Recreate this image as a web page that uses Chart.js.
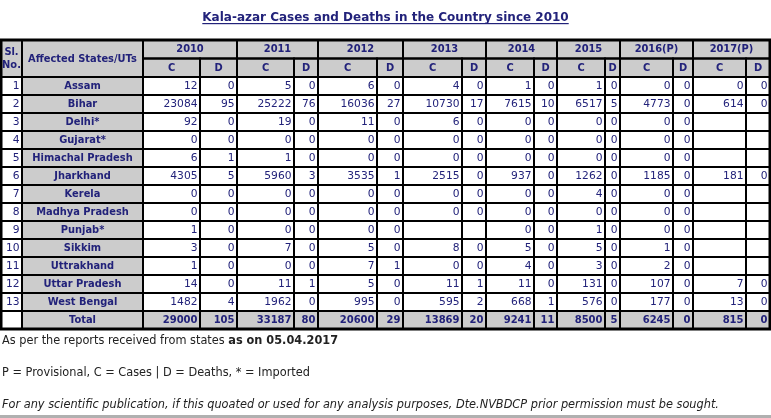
<!DOCTYPE html>
<html>
<head>
<meta charset="utf-8">
<script src="https://cdn.jsdelivr.net/npm/chart.js@4.4.1/dist/chart.umd.min.js"></script>
<style>
html,body{margin:0;padding:0;background:#fff;overflow:hidden;}
#wrap{position:relative;width:771px;height:418px;}
</style>
</head>
<body>
<div id="wrap"><canvas id="c" width="771" height="418"></canvas></div>
<script>
// ---------- DATA ----------
const titleText = 'Kala-azar Cases and Deaths in the Country since 2010';
const years = ['2010', '2011', '2012', '2013', '2014', '2015', '2016(P)', '2017(P)'];
const slNo = ['1','2','3','4','5','6','7','8','9','10','11','12','13'];
const states = ['Assam', 'Bihar', 'Delhi*', 'Gujarat*', 'Himachal Pradesh', 'Jharkhand', 'Kerela',
  'Madhya Pradesh', 'Punjab*', 'Sikkim', 'Uttrakhand', 'Uttar Pradesh', 'West Bengal'];

const cases2010  = [12, 23084, 92, 0, 6, 4305, 0, 0, 1, 3, 1, 14, 1482];
const deaths2010 = [0, 95, 0, 0, 1, 5, 0, 0, 0, 0, 0, 0, 4];
const cases2011  = [5, 25222, 19, 0, 1, 5960, 0, 0, 0, 7, 0, 11, 1962];
const deaths2011 = [0, 76, 0, 0, 0, 3, 0, 0, 0, 0, 0, 1, 0];
const cases2012  = [6, 16036, 11, 0, 0, 3535, 0, 0, 0, 5, 7, 5, 995];
const deaths2012 = [0, 27, 0, 0, 0, 1, 0, 0, 0, 0, 1, 0, 0];
const cases2013  = [4, 10730, 6, 0, 0, 2515, 0, 0, null, 8, 0, 11, 595];
const deaths2013 = [0, 17, 0, 0, 0, 0, 0, 0, null, 0, 0, 1, 2];
const cases2014  = [1, 7615, 0, 0, 0, 937, 0, 0, 0, 5, 4, 11, 668];
const deaths2014 = [0, 10, 0, 0, 0, 0, 0, 0, 0, 0, 0, 0, 1];
const cases2015  = [1, 6517, 0, 0, 0, 1262, 4, 0, 1, 5, 3, 131, 576];
const deaths2015 = [0, 5, 0, 0, 0, 0, 0, 0, 0, 0, 0, 0, 0];
const cases2016  = [0, 4773, 0, 0, 0, 1185, 0, 0, 0, 1, 2, 107, 177];
const deaths2016 = [0, 0, 0, 0, 0, 0, 0, 0, 0, 0, 0, 0, 0];
const cases2017  = [0, 614, null, null, null, 181, null, null, null, null, null, 7, 13];
const deaths2017 = [0, 0, null, null, null, 0, null, null, null, null, null, 0, 0];

const totalCases  = [29000, 33187, 20600, 13869, 9241, 8500, 6245, 815];
const totalDeaths = [105, 80, 29, 20, 11, 5, 0, 0];

const noteLine1 = 'As per the reports received from states ';
const noteLine1Bold = 'as on 05.04.2017';
const noteLine2 = 'P = Provisional, C = Cases | D = Deaths, * = Imported';
const noteLine3 = 'For any scientific publication, if this quoated or used for any analysis purposes, Dte.NVBDCP prior permission must be sought.';

// ---------- LAYOUT (not data) ----------
const casesByYear  = [cases2010, cases2011, cases2012, cases2013, cases2014, cases2015, cases2016, cases2017];
const deathsByYear = [deaths2010, deaths2011, deaths2012, deaths2013, deaths2014, deaths2015, deaths2016, deaths2017];
const colEdges = [1, 22, 143, 200, 237, 294, 318, 377, 403, 462, 486, 534, 557, 605, 620, 673, 693, 746, 770];
const headTop = 40, headMid = 58.5, headBot = 77, rowH = 18;

const NAVY = '#22227a';
const GREY = '#cccccc';
const FONT = '"DejaVu Sans", Verdana, sans-serif';
const NOTEFONT = '"DejaVu Sans Condensed", "DejaVu Sans", sans-serif';

const tablePlugin = {
  id: 'tablePlugin',
  afterDraw(chart) {
    const ctx = chart.ctx;
    const xs = chart.scales.x, ys = chart.scales.y;
    const X = v => xs.getPixelForValue(v);
    const Y = v => ys.getPixelForValue(v);

    function cell(c0, c1, r0, r1, bg, text, align, font, color) {
      const x0 = X(colEdges[c0]), x1 = X(colEdges[c1]);
      const y0 = Y(r0), y1 = Y(r1);
      if (bg) { ctx.fillStyle = bg; ctx.fillRect(x0, y0, x1 - x0, y1 - y0); }
      if (text !== null && text !== undefined && text !== '') {
        ctx.font = font; ctx.fillStyle = color || NAVY;
        ctx.textBaseline = 'middle';
        let tx;
        if (align === 'right') { ctx.textAlign = 'right'; tx = x1 - 2.5; }
        else { ctx.textAlign = 'center'; tx = (x0 + x1) / 2; }
        ctx.fillText(String(text), tx, (y0 + y1) / 2 + 0.5);
      }
    }
    function border(c0, c1, r0, r1) {
      const x0 = X(colEdges[c0]), x1 = X(colEdges[c1]);
      const y0 = Y(r0), y1 = Y(r1);
      ctx.strokeRect(x0, y0, x1 - x0, y1 - y0);
    }

    ctx.save();
    // Title
    ctx.font = 'bold 12px ' + FONT;
    ctx.fillStyle = NAVY;
    ctx.textAlign = 'center';
    ctx.textBaseline = 'alphabetic';
    const tcx = X(385.5), tby = Y(21);
    ctx.fillText(titleText, tcx, tby);
    const tw = ctx.measureText(titleText).width;
    ctx.fillRect(tcx - tw / 2, tby + 2, tw, 1.2);

    const bold = 'bold 9.9px ' + FONT;
    const boldNum = 'bold 10px ' + FONT;
    const norm = '10.7px ' + FONT;
    const nRows = states.length;

    // header
    cell(0, 1, headTop, headBot, GREY, null);
    ctx.font = bold; ctx.fillStyle = NAVY; ctx.textAlign = 'center'; ctx.textBaseline = 'middle';
    const scx = (X(colEdges[0]) + X(colEdges[1])) / 2;
    ctx.fillText('Sl.', scx, Y(headTop + 12));
    ctx.fillText('No.', scx, Y(headTop + 25));
    cell(1, 2, headTop, headBot, GREY, 'Affected States/UTs', 'center', bold);
    years.forEach((yr, i) => {
      const c = 2 + i * 2;
      cell(c, c + 2, headTop, headMid, GREY, yr, 'center', bold);
      cell(c, c + 1, headMid, headBot, GREY, 'C', 'center', bold);
      cell(c + 1, c + 2, headMid, headBot, GREY, 'D', 'center', bold);
    });

    // body rows
    for (let r = 0; r < nRows; r++) {
      const r0 = headBot + r * rowH, r1 = r0 + rowH;
      cell(0, 1, r0, r1, '#ffffff', slNo[r], 'right', norm);
      cell(1, 2, r0, r1, GREY, states[r], 'center', bold);
      years.forEach((yr, i) => {
        const c = 2 + i * 2;
        cell(c, c + 1, r0, r1, '#ffffff', casesByYear[i][r], 'right', norm);
        cell(c + 1, c + 2, r0, r1, '#ffffff', deathsByYear[i][r], 'right', norm);
      });
    }
    // total row
    const t0 = headBot + nRows * rowH, t1 = t0 + rowH;
    cell(0, 1, t0, t1, '#ffffff', null);
    cell(1, 2, t0, t1, GREY, 'Total', 'center', bold);
    years.forEach((yr, i) => {
      const c = 2 + i * 2;
      cell(c, c + 1, t0, t1, GREY, totalCases[i], 'right', boldNum);
      cell(c + 1, c + 2, t0, t1, GREY, totalDeaths[i], 'right', boldNum);
    });

    // borders
    ctx.strokeStyle = '#000';
    ctx.lineWidth = 2;
    border(0, 1, headTop, headBot);
    border(1, 2, headTop, headBot);
    years.forEach((yr, i) => {
      const c = 2 + i * 2;
      border(c, c + 2, headTop, headMid);
      border(c, c + 1, headMid, headBot);
      border(c + 1, c + 2, headMid, headBot);
    });
    for (let r = 0; r <= nRows; r++) {
      const r0 = headBot + r * rowH, r1 = r0 + rowH;
      for (let c = 0; c < colEdges.length - 1; c++) border(c, c + 1, r0, r1);
    }
    ctx.lineWidth = 3;
    border(0, colEdges.length - 1, headTop, t1);

    // notes
    ctx.textAlign = 'left';
    ctx.textBaseline = 'alphabetic';
    ctx.fillStyle = '#222222';
    ctx.font = '12.6px ' + NOTEFONT;
    ctx.fillText(noteLine1, X(2), Y(344));
    const w1 = ctx.measureText(noteLine1).width;
    ctx.font = 'bold 12.6px ' + NOTEFONT;
    ctx.fillText(noteLine1Bold, X(2) + w1, Y(344));
    ctx.font = '12.6px ' + NOTEFONT;
    ctx.fillText(noteLine2, X(2), Y(376));
    ctx.font = 'italic 12.6px ' + NOTEFONT;
    ctx.fillText(noteLine3, X(2), Y(408));
    // bottom grey bar
    ctx.fillStyle = '#b0b0b0';
    ctx.fillRect(X(0), Y(415), X(771) - X(0), Y(418) - Y(415));
    ctx.restore();
  }
};

new Chart(document.getElementById('c'), {
  type: 'scatter',
  data: { datasets: [{ data: [], pointRadius: 0 }] },
  options: {
    responsive: false,
    animation: false,
    devicePixelRatio: 1,
    layout: { padding: 0 },
    scales: {
      x: { type: 'linear', min: 0, max: 771, display: false },
      y: { type: 'linear', min: 0, max: 418, reverse: true, display: false }
    },
    plugins: { legend: { display: false }, tooltip: { enabled: false }, title: { display: false } }
  },
  plugins: [tablePlugin]
});
</script>
</body>
</html>
